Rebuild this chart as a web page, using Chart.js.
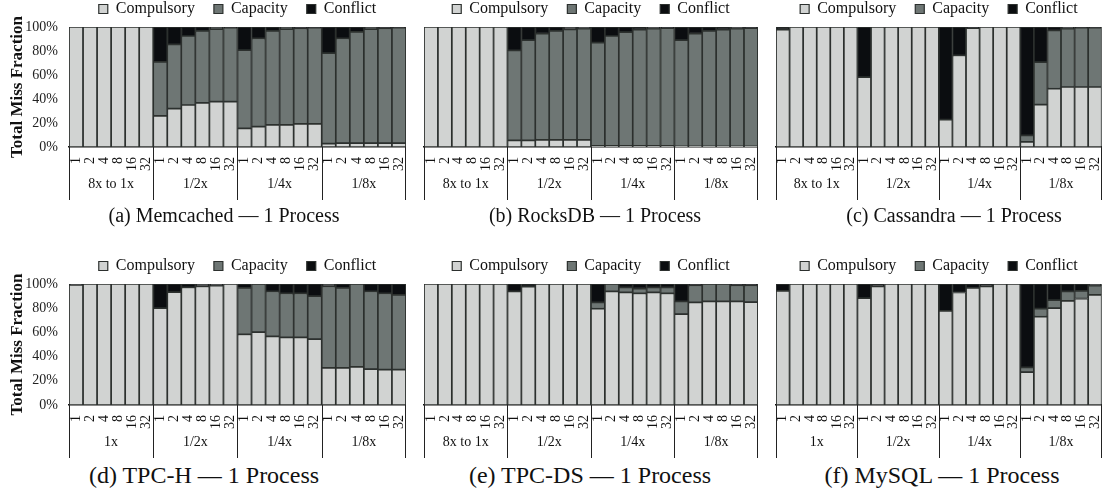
<!DOCTYPE html>
<html>
<head>
<meta charset="utf-8">
<script src="https://cdn.jsdelivr.net/npm/chart.js@4.4.0/dist/chart.umd.min.js"></script>
<style>
  body { margin: 0; background: #fff; width: 1114px; height: 489px; overflow: hidden; position: relative; font-family: 'Liberation Serif', serif; }
  canvas { position: absolute; }
  .caption { position: absolute; height: 28px; line-height: 28px; color: #111; text-align: center; white-space: nowrap; }
  .top { font-size: 20px; }
  .bottom { font-size: 24px; }
</style>
</head>
<body>
<canvas id="chartA"></canvas>
<canvas id="chartB"></canvas>
<canvas id="chartC"></canvas>
<canvas id="chartD"></canvas>
<canvas id="chartE"></canvas>
<canvas id="chartF"></canvas>

<div class="caption top" style="left:24px;width:400px;top:201px">(a) Memcached — 1 Process</div>
<div class="caption top" style="left:395px;width:400px;top:201px">(b) RocksDB — 1 Process</div>
<div class="caption top" style="left:754px;width:400px;top:201px">(c) Cassandra — 1 Process</div>
<div class="caption bottom" style="left:4px;width:400px;top:461px">(d) TPC-H — 1 Process</div>
<div class="caption bottom" style="left:390px;width:400px;top:461px">(e) TPC-DS — 1 Process</div>
<div class="caption bottom" style="left:742px;width:400px;top:461px">(f) MySQL — 1 Process</div>

<script>
// ---- categories ----
var threads = ['1', '2', '4', '8', '16', '32'];
var groupsScaled = ['8x to 1x', '1/2x', '1/4x', '1/8x'];
var groupsPlain = ['1x', '1/2x', '1/4x', '1/8x'];
var seriesNames = ['Compulsory', 'Capacity', 'Conflict'];
var yTicks = [0, 20, 40, 60, 80, 100];

// ---- (a) Memcached ----
var memcachedComp = [100, 100, 100, 100, 100, 100, 26, 32, 35, 36.7, 37.8, 37.8, 15.5, 17, 18.5, 18.5, 19.3, 19.3, 2.8, 3.3, 3.3, 3.3, 3.3, 3.3];
var memcachedCap  = [0, 0, 0, 0, 0, 0, 45, 53.5, 57.5, 60, 60.5, 61.6, 65.2, 73.6, 78.2, 79.8, 79.6, 80.1, 75.4, 87.3, 92.6, 95, 95.6, 96.1];
var memcachedConf = [0, 0, 0, 0, 0, 0, 29, 14.5, 7.5, 3.3, 1.7, 0.6, 19.3, 9.4, 3.3, 1.7, 1.1, 0.6, 21.8, 9.4, 4.1, 1.7, 1.1, 0.6];

// ---- (b) RocksDB ----
var rocksComp = [100, 100, 100, 100, 100, 100, 5.5, 5.5, 6, 6, 6, 6, 1, 1, 1, 1, 1, 1, 0.5, 0.5, 0.5, 0.5, 0.5, 0.5];
var rocksCap  = [0, 0, 0, 0, 0, 0, 75, 83.5, 88.4, 90.7, 92, 92.6, 86, 91.5, 94.8, 96.8, 97.6, 98, 88.5, 93.9, 96.2, 97.3, 98.1, 98.5];
var rocksConf = [0, 0, 0, 0, 0, 0, 19.5, 11, 5.6, 3.3, 2, 1.4, 13, 7.5, 4.2, 2.2, 1.4, 1, 11, 5.6, 3.3, 2.2, 1.4, 1];

// ---- (c) Cassandra ----
var cassComp = [97.8, 100, 100, 100, 100, 100, 58.3, 100, 100, 100, 100, 100, 22.8, 76.4, 99, 100, 100, 100, 4.2, 35.3, 48.6, 50, 50, 50];
var cassCap  = [0, 0, 0, 0, 0, 0, 0, 0, 0, 0, 0, 0, 0, 0, 0, 0, 0, 0, 5.5, 35.5, 48.6, 48.6, 49.4, 49.4];
var cassConf = [2.2, 0, 0, 0, 0, 0, 41.7, 0, 0, 0, 0, 0, 77.2, 23.6, 1, 0, 0, 0, 90.3, 29.2, 2.8, 1.4, 0.6, 0.6];

// ---- (d) TPC-H ----
var tpchComp = [99.2, 100, 100, 100, 100, 100, 80, 93.2, 97.3, 98.1, 98.6, 100, 58.4, 60.3, 56.7, 55.9, 55.9, 54.5, 30.7, 30.7, 31.5, 29.6, 29.3, 29.3];
var tpchCap  = [0, 0, 0, 0, 0, 0, 0, 0, 0, 0, 0, 0, 38.3, 39.7, 37.3, 36.4, 36.4, 35.4, 67.4, 66, 68.5, 64.4, 63, 61.7];
var tpchConf = [0.8, 0, 0, 0, 0, 0, 20, 6.8, 2.7, 1.9, 1.4, 0, 3.3, 0, 6, 7.7, 7.7, 10.1, 1.9, 3.3, 0, 6, 7.7, 9];

// ---- (e) TPC-DS ----
var tpcdsComp = [100, 100, 100, 100, 100, 100, 93.9, 97.8, 100, 100, 100, 100, 79.6, 93.9, 93.1, 92.3, 93.1, 92.3, 75.1, 84.8, 85.6, 85.6, 85.6, 85];
var tpcdsCap  = [0, 0, 0, 0, 0, 0, 0, 0, 0, 0, 0, 0, 5.2, 6.1, 4.1, 3.8, 4.1, 4.9, 10.5, 14.1, 14.4, 14.4, 13.3, 13.9];
var tpcdsConf = [0, 0, 0, 0, 0, 0, 6.1, 2.2, 0, 0, 0, 0, 15.2, 0, 2.8, 3.9, 2.8, 2.8, 14.4, 1.1, 0, 0, 1.1, 1.1];

// ---- (f) MySQL ----
var mysqlComp = [94.4, 100, 100, 100, 100, 100, 88.3, 98, 100, 100, 100, 100, 77.8, 93, 96.7, 98, 100, 100, 27.2, 73, 80, 86.1, 88, 91.1];
var mysqlCap  = [0, 0, 0, 0, 0, 0, 0, 0, 0, 0, 0, 0, 0, 0, 0, 0, 0, 0, 3.9, 6.7, 6.7, 7.8, 6.4, 7.5];
var mysqlConf = [5.6, 0, 0, 0, 0, 0, 11.7, 2, 0, 0, 0, 0, 22.2, 7, 3.3, 2, 0, 0, 68.9, 20.3, 13.3, 6.1, 5.6, 1.4];

var colors = ['#d1d3d2', '#6e7674', '#0b0d10'];
var edge = '#2c302e';
var serif = "'Liberation Serif', serif";

// tick labels: the thread counts repeated under each size group
var tickLabels = [];
groupsPlain.forEach(function () {
  threads.forEach(function (t) { tickLabels.push(t); });
});

// group names + separator lines under the x axis
function groupPlugin(names) {
  return {
    id: 'groupRow',
    afterDraw: function (chart) {
      var x = chart.scales.x, area = chart.chartArea, c = chart.ctx;
      var half = (x.getPixelForValue(1) - x.getPixelForValue(0)) / 2;
      c.save();
      c.strokeStyle = '#222';
      c.lineWidth = 1;
      c.fillStyle = '#111';
      c.font = '14px ' + serif;
      c.textAlign = 'center';
      c.textBaseline = 'middle';
      names.forEach(function (n, g) {
        var l = x.getPixelForValue(g * 6) - half;
        var r = x.getPixelForValue(g * 6 + 5) + half;
        c.beginPath();
        c.moveTo(Math.round(l) + 0.5, area.bottom);
        c.lineTo(Math.round(l) + 0.5, area.bottom + 53);
        if (g == names.length - 1) {
          c.moveTo(Math.round(r) - 0.5, area.bottom);
          c.lineTo(Math.round(r) - 0.5, area.bottom + 53);
        }
        c.stroke();
        c.fillText(n, (l + r) / 2, area.bottom + 37);
      });
      c.restore();
    }
  };
}

function makePanel(id, left, top, width, height, padL, padR, showY, groups, comp, cap, conf) {
  var cv = document.getElementById(id);
  cv.width = width;
  cv.height = height;
  cv.style.left = left + 'px';
  cv.style.top = top + 'px';
  var vals = [comp, cap, conf];
  var datasets = seriesNames.map(function (name, i) {
    return {
      label: name,
      data: vals[i],
      backgroundColor: colors[i],
      borderColor: edge,
      borderWidth: 1.2,
      borderSkipped: false,
      barPercentage: 1,
      categoryPercentage: 1
    };
  });
  return new Chart(cv.getContext('2d'), {
    type: 'bar',
    data: { labels: tickLabels, datasets: datasets },
    options: {
      responsive: false,
      animation: false,
      layout: { padding: { left: padL, right: padR, top: 0, bottom: 0 } },
      plugins: {
        legend: {
          display: true,
          position: 'top',
          fullSize: false,
          labels: {
            boxWidth: 9,
            boxHeight: 9,
            padding: 19,
            color: '#111',
            font: { family: serif, size: 16 }
          }
        },
        tooltip: { enabled: false }
      },
      scales: {
        x: {
          stacked: true,
          grid: { display: false },
          border: { display: true, color: '#111', width: 1.5 },
          ticks: {
            autoSkip: false,
            minRotation: 90,
            maxRotation: 90,
            padding: 2,
            color: '#111',
            font: { family: serif, size: 14 }
          },
          afterFit: function (s) { s.height = 56; }
        },
        y: {
          stacked: true,
          display: showY,
          min: 0,
          max: 100,
          afterBuildTicks: function (s) { s.ticks = yTicks.map(function (v) { return { value: v }; }); },
          grid: { display: false },
          border: { display: true, color: '#222', width: 1 },
          title: {
            display: showY,
            text: 'Total Miss Fraction',
            color: '#111',
            padding: { top: 7, bottom: 0 },
            font: { family: serif, size: 17, weight: 'bold' }
          },
          ticks: {
            autoSkip: false,
            padding: 3,
            color: '#222',
            font: { family: serif, size: 14 },
            callback: function (v) { return v + '%'; }
          },
          afterFit: function (s) { if (showY) s.width = 69; }
        }
      }
    },
    plugins: [groupPlugin(groups)]
  });
}

// top row
makePanel('chartA', 0, -18, 418, 221, 0, 4, true, groupsScaled, memcachedComp, memcachedCap, memcachedConf);
makePanel('chartB', 418, -18, 352, 221, 6, 4, false, groupsScaled, rocksComp, rocksCap, rocksConf);
makePanel('chartC', 770, -18, 344, 221, 6, 1, false, groupsScaled, cassComp, cassCap, cassConf);
// bottom row
makePanel('chartD', 0, 239, 418, 222, 0, 4, true, groupsPlain, tpchComp, tpchCap, tpchConf);
makePanel('chartE', 418, 239, 352, 222, 6, 4, false, groupsScaled, tpcdsComp, tpcdsCap, tpcdsConf);
makePanel('chartF', 770, 239, 344, 222, 6, 1, false, groupsPlain, mysqlComp, mysqlCap, mysqlConf);
</script>
</body>
</html>
